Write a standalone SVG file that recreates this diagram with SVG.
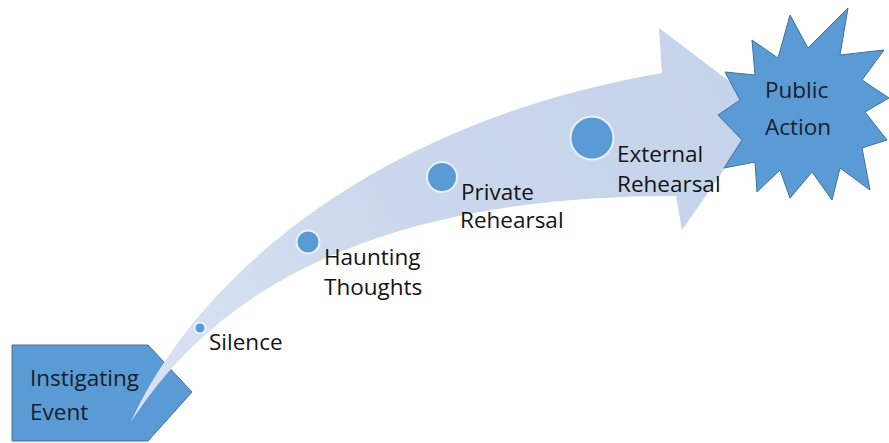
<svg xmlns="http://www.w3.org/2000/svg" width="889" height="443" viewBox="0 0 889 443">
  <style>
    .shape { fill: #5b9bd5; stroke: #41719c; stroke-width: 1; }
    .dot { fill: #5b9bd5; stroke: #eaf1fa; stroke-width: 2; }
    .lbl { font-family: "Open Sans", "Noto Sans", "Liberation Sans", sans-serif; font-size: 22.5px; fill: #141414; }
    .in { fill: #18202c; }
  </style>
  <defs>
    <linearGradient id="arrowFill" x1="131" y1="422" x2="766" y2="109" gradientUnits="userSpaceOnUse">
      <stop offset="0" stop-color="#dae3f2"/>
      <stop offset="0.5" stop-color="#cad7ec"/>
      <stop offset="1" stop-color="#c5d3ea"/>
    </linearGradient>
  </defs>
  <rect width="889" height="443" fill="#ffffff"/>
  <g id="instigating-event">
    <polygon class="shape" points="12,345 148,345 192,392 148,441 12,441"/>
    <text class="lbl in" x="30" y="386">Instigating</text>
    <text class="lbl in" x="30" y="420">Event</text>
  </g>
  <g id="connectors">
    <path id="curved-arrow" fill="url(#arrowFill)" d="M131,422 C190,290 360,125 662,73 L659,28 L766,109 L682,230 L676,196 C480,196 250,235 131,422 Z"/>
  </g>
  <g id="public-action">
    <polygon class="shape" points="752,40 778,58 790,15 808,48 848,8 840,55 884,50 862,80 889,98 865,112 887,140 862,148 870,190 840,168 832,200 812,172 790,198 780,170 757,192 755,162 724,168 742,140 718,115 740,100 725,72 755,75"/>
    <text class="lbl in" x="765" y="98">Public</text>
    <text class="lbl in" x="765" y="135">Action</text>
  </g>
  <g id="silence">
    <circle class="dot" cx="200" cy="328" r="5.5"/>
    <text class="lbl" x="209" y="350">Silence</text>
  </g>
  <g id="haunting-thoughts">
    <circle class="dot" cx="308" cy="242" r="11.5"/>
    <text class="lbl" x="324" y="265">Haunting</text>
    <text class="lbl" x="324" y="295">Thoughts</text>
  </g>
  <g id="private-rehearsal">
    <circle class="dot" cx="442" cy="177" r="15"/>
    <text class="lbl" x="461" y="200">Private</text>
    <text class="lbl" x="460" y="228">Rehearsal</text>
  </g>
  <g id="external-rehearsal">
    <circle class="dot" cx="592" cy="138" r="21.5"/>
    <text class="lbl" x="617" y="162">External</text>
    <text class="lbl" x="617" y="192">Rehearsal</text>
  </g>
</svg>
